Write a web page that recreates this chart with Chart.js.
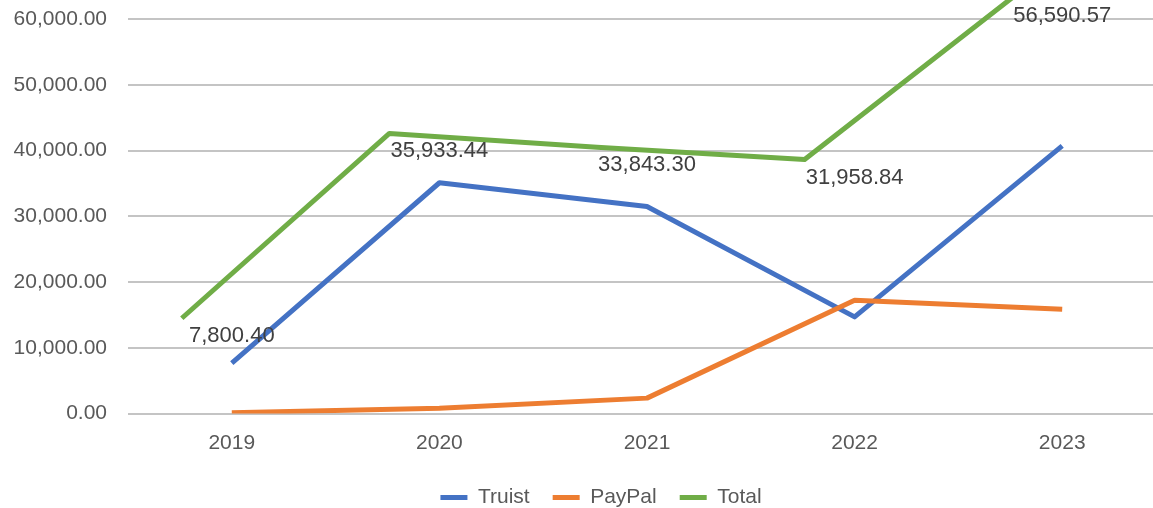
<!DOCTYPE html>
<html>
<head>
<meta charset="utf-8">
<script src="https://cdn.jsdelivr.net/npm/chart.js@4"></script>
<style>
  html, body { margin: 0; padding: 0; background: #ffffff; overflow: hidden; }
  #wrap { width: 1180px; height: 518px; }
</style>
</head>
<body>
<div id="wrap"><canvas id="c" width="1180" height="518"></canvas></div>
<script>
const categories = ['2019', '2020', '2021', '2022', '2023'];
const truist = [7680, 35120, 31500, 14710, 40740];
const paypal = [120, 810, 2340, 17250, 15850];
const total = [7800.40, 35933.44, 33843.30, 31958.84, 56590.57];
const yTicks = [0, 10000, 20000, 30000, 40000, 50000, 60000];

const FONT = "'Liberation Sans', Arial, sans-serif";
const fmt = v => v.toLocaleString('en-US', { minimumFractionDigits: 2, maximumFractionDigits: 2 });

// Total line is drawn offset from its category positions, as in the reference picture
const totalShift = { x: -50, y: -44 };

const shiftPlugin = {
  id: 'shiftTotal',
  afterLayout(chart) {
    // centre the legend as in the reference
    if (chart.legend) { chart.legend.left += 36; }
  },
  beforeDatasetDraw(chart, args) {
    if (chart.data.datasets[args.index].label === 'Total') {
      chart.ctx.save();
      chart.ctx.translate(totalShift.x, totalShift.y);
    }
  },
  afterDatasetDraw(chart, args) {
    if (chart.data.datasets[args.index].label === 'Total') {
      chart.ctx.restore();
    }
  }
};

const labelPlugin = {
  id: 'totalLabels',
  afterDatasetsDraw(chart) {
    const idx = chart.data.datasets.findIndex(d => d.label === 'Total');
    const meta = chart.getDatasetMeta(idx);
    const ctx = chart.ctx;
    ctx.save();
    ctx.font = '22px ' + FONT;
    ctx.fillStyle = '#404040';
    ctx.textAlign = 'center';
    ctx.textBaseline = 'middle';
    meta.data.forEach((pt, i) => {
      ctx.fillText(fmt(total[i]), pt.x, pt.y - 26);
    });
    ctx.restore();
  }
};

new Chart(document.getElementById('c'), {
  type: 'line',
  data: {
    labels: categories,
    datasets: [
      { label: 'Truist', data: truist, borderColor: '#4472C4', backgroundColor: '#4472C4', borderWidth: 5, pointRadius: 0, tension: 0, order: 3, borderJoinStyle: 'round' },
      { label: 'PayPal', data: paypal, borderColor: '#ED7D31', backgroundColor: '#ED7D31', borderWidth: 5, pointRadius: 0, tension: 0, order: 2, borderJoinStyle: 'round' },
      { label: 'Total', data: total, borderColor: '#70AD47', backgroundColor: '#70AD47', borderWidth: 5, pointRadius: 0, tension: 0, order: 1, clip: false, borderJoinStyle: 'round' }
    ]
  },
  options: {
    responsive: false,
    animation: false,
    layout: { padding: { left: 0, right: 14, top: 19.3, bottom: 0 } },
    plugins: {
      tooltip: { enabled: false },
      legend: {
        position: 'bottom',
        labels: {
          font: { family: FONT, size: 21 },
          color: '#595959',
          boxWidth: 27,
          boxHeight: 5,
          padding: 23,
          sort: (a, b) => a.datasetIndex - b.datasetIndex,
          generateLabels(chart) {
            const items = Chart.defaults.plugins.legend.labels.generateLabels(chart);
            items.forEach(it => { it.lineWidth = 0; it.strokeStyle = 'rgba(0,0,0,0)'; });
            return items;
          }
        }
      }
    },
    scales: {
      x: {
        offset: true,
        grid: { display: false },
        border: { display: false },
        ticks: { font: { family: FONT, size: 21 }, color: '#595959', padding: 9 },
        afterFit(scale) { scale.height = 50.5; }
      },
      y: {
        min: 0,
        max: 60000,
        afterBuildTicks(scale) { scale.ticks = yTicks.map(v => ({ value: v })); },
        grid: { color: '#c4c4c4', lineWidth: 2, drawTicks: false },
        border: { display: false },
        ticks: { font: { family: FONT, size: 21 }, color: '#595959', padding: 21, callback: v => fmt(v) },
        afterFit(scale) { scale.width = 128; scale.paddingTop = 0; scale.paddingBottom = 0; }
      }
    }
  },
  plugins: [shiftPlugin, labelPlugin]
});
</script>
</body>
</html>
